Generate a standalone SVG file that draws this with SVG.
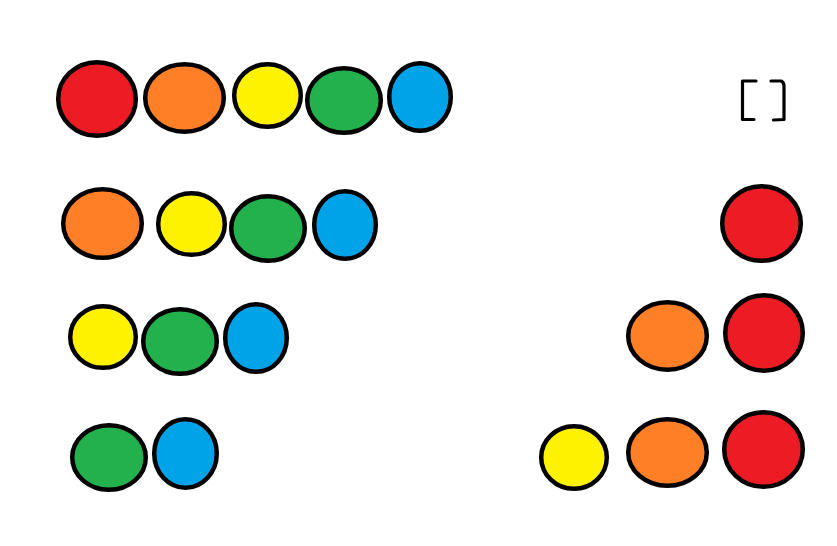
<svg xmlns="http://www.w3.org/2000/svg" width="837" height="546" viewBox="0 0 837 546">
<style>
ellipse{stroke:#000;stroke-width:4.5}
.r{fill:#ED1C24}.o{fill:#FF7F27}.y{fill:#FFF200}.g{fill:#22B14C}.b{fill:#00A2E8}
.br{fill:none;stroke:#000;stroke-width:3.2;stroke-linecap:round;stroke-linejoin:round}
</style>
<rect width="837" height="546" fill="#fff"/>
<g id="row1">
<ellipse class="r" cx="97" cy="99" rx="38.8" ry="36.8"/>
<ellipse class="o" cx="184.5" cy="98" rx="39.3" ry="33.8"/>
<ellipse class="y" cx="267.5" cy="95.5" rx="33.3" ry="31.3"/>
<ellipse class="g" cx="344" cy="100.5" rx="36.8" ry="32.3"/>
<ellipse class="b" cx="420" cy="97" rx="30.8" ry="33.8"/>
</g>
<g id="row2">
<ellipse class="o" cx="102.5" cy="223.5" rx="39.3" ry="34.3"/>
<ellipse class="y" cx="191.5" cy="224" rx="33.3" ry="30.8"/>
<ellipse class="g" cx="268" cy="228.5" rx="36.8" ry="32.3"/>
<ellipse class="b" cx="345" cy="225" rx="30.8" ry="33.8"/>
</g>
<g id="row3">
<ellipse class="y" cx="103" cy="337" rx="32.8" ry="30.8"/>
<ellipse class="g" cx="180" cy="341.5" rx="36.8" ry="32.3"/>
<ellipse class="b" cx="256" cy="338" rx="30.8" ry="33.8"/>
</g>
<g id="row4">
<ellipse class="g" cx="109" cy="457.5" rx="36.8" ry="32.3"/>
<ellipse class="b" cx="185.5" cy="453.5" rx="31.3" ry="34.3"/>
</g>
<g id="stack0">
<path class="br" d="M756 81 L742.5 81 L742.5 119.5 L754 119.5"/>
<path class="br" d="M771 81 L781 81 Q784 82 784 86 L784 119.5 L773.5 120"/>
</g>
<g id="stack1">
<ellipse class="r" cx="761.5" cy="223.5" rx="39.3" ry="37.3"/>
</g>
<g id="stack2">
<ellipse class="o" cx="667.5" cy="336" rx="39.3" ry="33.8"/>
<ellipse class="r" cx="764" cy="333" rx="38.8" ry="37.8"/>
</g>
<g id="stack3">
<ellipse class="y" cx="574" cy="457.5" rx="32.8" ry="31.3"/>
<ellipse class="o" cx="667.5" cy="452.5" rx="39.3" ry="33.3"/>
<ellipse class="r" cx="763.5" cy="449.5" rx="39.3" ry="37.3"/>
</g>
<g id="connectors"/>
</svg>
